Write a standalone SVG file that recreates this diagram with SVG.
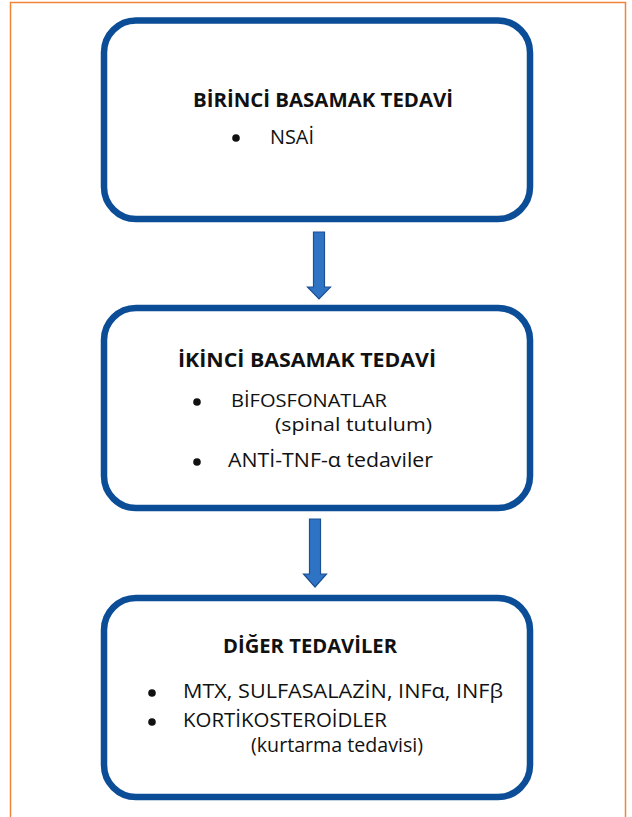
<svg xmlns="http://www.w3.org/2000/svg" width="632" height="817" viewBox="0 0 632 817">
<style>
.box{fill:#fff;stroke:#0b4d96;stroke-width:6.5}
.t{font-family:"Open Sans","Liberation Sans",sans-serif;font-size:19.5px;fill:#111}
.s{font-size:18.5px}
.b{font-weight:bold}
.arr{fill:#2f74c4;stroke:#1c4f93;stroke-width:1.2}
</style>
<rect x="0" y="0" width="632" height="817" fill="#fff"/>
<path d="M10.5 817 V2.5 H625.5 V817" fill="none" stroke="#f0843a" stroke-width="1.5"/>
<g id="connectors">
<path class="arr" d="M313.5 232 H324.5 V287 H330.5 L319 299 L307.5 287 H313.5 Z"/>
<path class="arr" d="M309.5 519 H320.5 V574 H326.5 L315 587 L303.5 574 H309.5 Z"/>
</g>
<g id="node1">
<rect class="box" x="104" y="20.5" width="426" height="198.5" rx="32"/>
<text class="t b" x="193" y="107" textLength="260" lengthAdjust="spacingAndGlyphs">BİRİNCİ BASAMAK TEDAVİ</text>
<circle cx="236" cy="138" r="3.8" fill="#111"/>
<text class="t" x="270" y="144" textLength="44" lengthAdjust="spacingAndGlyphs">NSAİ</text>
</g>
<g id="node2">
<rect class="box" x="104" y="308" width="426" height="200" rx="32"/>
<text class="t b" x="178" y="367" textLength="258" lengthAdjust="spacingAndGlyphs">İKİNCİ BASAMAK TEDAVİ</text>
<circle cx="197" cy="402" r="3.8" fill="#111"/>
<text class="t s" x="231" y="407" textLength="156" lengthAdjust="spacingAndGlyphs">BİFOSFONATLAR</text>
<text class="t s" x="275" y="431" textLength="157" lengthAdjust="spacingAndGlyphs">(spinal tutulum)</text>
<circle cx="197" cy="462" r="3.8" fill="#111"/>
<text class="t" x="228" y="467" textLength="205" lengthAdjust="spacingAndGlyphs">ANTİ-TNF-α tedaviler</text>
</g>
<g id="node3">
<rect class="box" x="104" y="598" width="426" height="199" rx="32"/>
<text class="t b" x="223" y="653" textLength="174" lengthAdjust="spacingAndGlyphs">DİĞER TEDAVİLER</text>
<circle cx="152" cy="693" r="3.8" fill="#111"/>
<text class="t" x="183" y="698" textLength="320" lengthAdjust="spacingAndGlyphs">MTX, SULFASALAZİN, INFα, INFβ</text>
<circle cx="152" cy="722" r="3.8" fill="#111"/>
<text class="t" x="183" y="727" textLength="204" lengthAdjust="spacingAndGlyphs">KORTİKOSTEROİDLER</text>
<text class="t" x="251" y="752" textLength="172" lengthAdjust="spacingAndGlyphs">(kurtarma tedavisi)</text>
</g>
</svg>
